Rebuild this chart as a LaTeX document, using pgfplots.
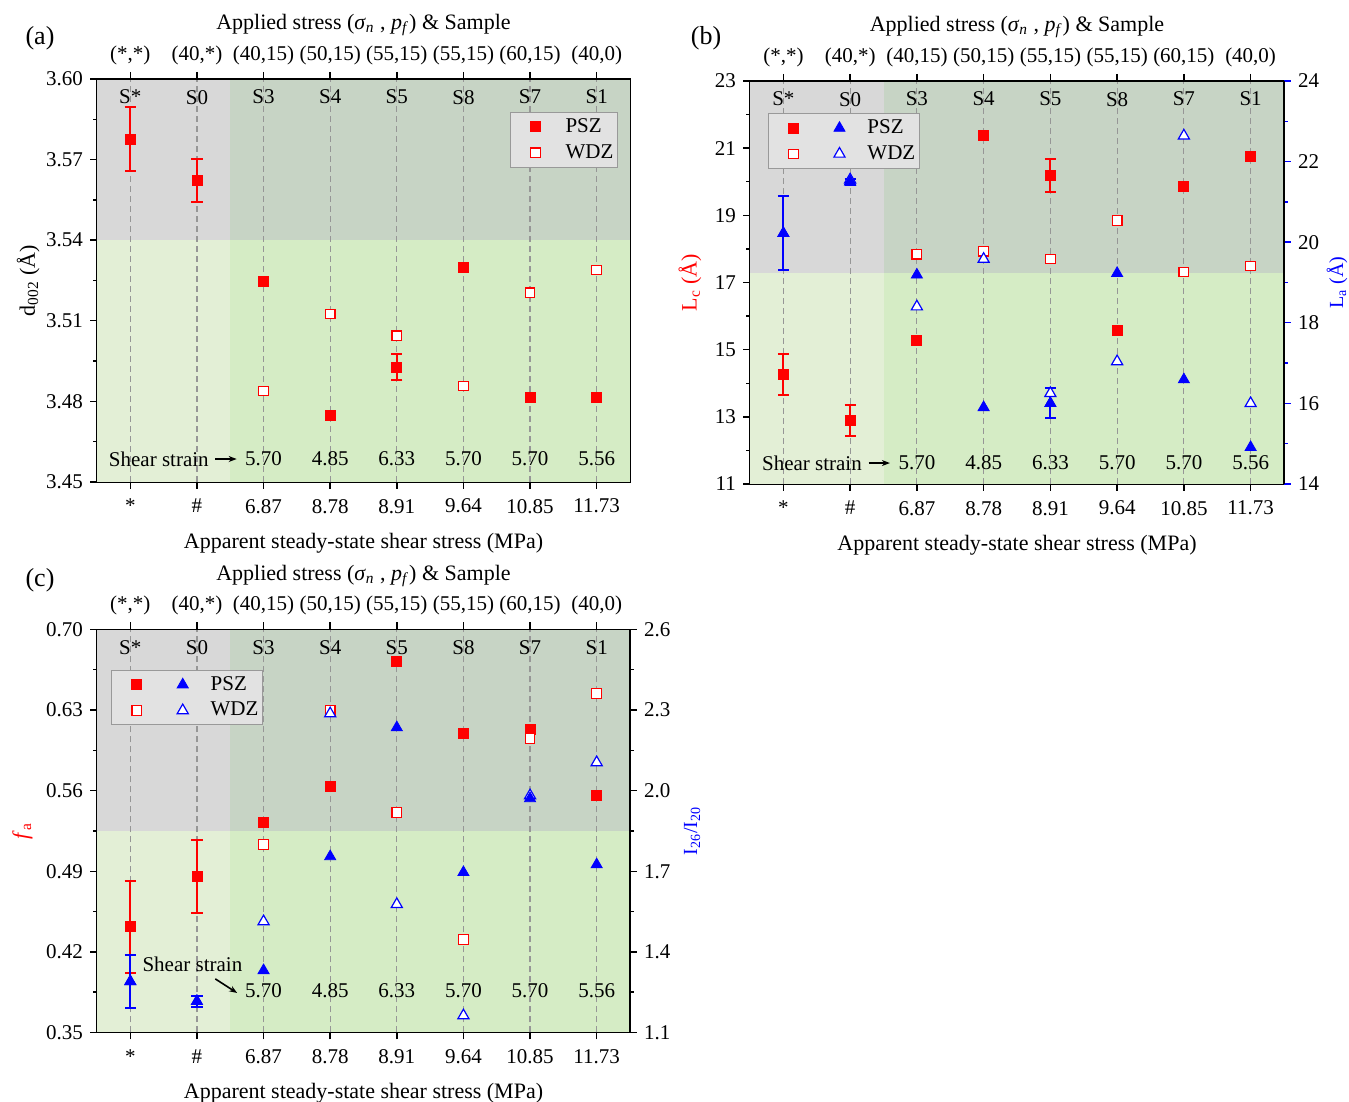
\documentclass[border=0pt]{standalone}
\usepackage{fontspec}
\setmainfont{Liberation Serif}
\usepackage{pgfplots}
\pgfplotsset{compat=1.18}
\usetikzlibrary{arrows.meta}

\definecolor{bgGrayL}{RGB}{216,216,216}
\definecolor{bgGrayR}{RGB}{199,212,197}
\definecolor{bgGreenL}{RGB}{227,239,214}
\definecolor{bgGreenR}{RGB}{213,236,197}
\definecolor{dashc}{RGB}{150,150,150}
\definecolor{legbg}{RGB}{226,226,226}

\newcommand\fs{\fontsize{10.5}{12}\selectfont}
\newcommand\fl{\fontsize{11}{13}\selectfont}

\newcommand\panelbg[1]{%
 \fill[bgGrayL] (rel axis cs:0,#1) rectangle (rel axis cs:0.25,1);
 \fill[bgGrayR] (rel axis cs:0.25,#1) rectangle (rel axis cs:1,1);
 \fill[bgGreenL] (rel axis cs:0,0) rectangle (rel axis cs:0.25,#1);
 \fill[bgGreenR] (rel axis cs:0.25,0) rectangle (rel axis cs:1,#1);
 \pgfplotsinvokeforeach{0.0625,0.1875,0.3125,0.4375,0.5625,0.6875,0.8125,0.9375}{\draw[dashc,line width=0.6pt,dash pattern=on 3pt off 2pt] (rel axis cs:##1,0) -- (rel axis cs:##1,1);}
 \node[font=\fs] at (rel axis cs:0.0625,0.955) {S*};
 \node[font=\fs] at (rel axis cs:0.1875,0.955) {S0};
 \node[font=\fs] at (rel axis cs:0.3125,0.955) {S3};
 \node[font=\fs] at (rel axis cs:0.4375,0.955) {S4};
 \node[font=\fs] at (rel axis cs:0.5625,0.955) {S5};
 \node[font=\fs] at (rel axis cs:0.6875,0.955) {S8};
 \node[font=\fs] at (rel axis cs:0.8125,0.955) {S7};
 \node[font=\fs] at (rel axis cs:0.9375,0.955) {S1};
}
\newcommand\strainvals[1]{%
 \node[font=\fs] at (rel axis cs:0.3125,#1) {5.70};
 \node[font=\fs] at (rel axis cs:0.4375,#1) {4.85};
 \node[font=\fs] at (rel axis cs:0.5625,#1) {6.33};
 \node[font=\fs] at (rel axis cs:0.6875,#1) {5.70};
 \node[font=\fs] at (rel axis cs:0.8125,#1) {5.70};
 \node[font=\fs] at (rel axis cs:0.9375,#1) {5.56};
}

\pgfplotsset{
 base/.style={scale only axis, width=266.5pt, height=201.5pt, anchor=south west,
  xmin=-0.5, xmax=7.5, xtick={0,...,7}, tick align=outside,
  tick style={black, line width=0.7pt}, major tick length=3.5pt, minor tick length=2pt,
  axis line style={line width=0.9pt, -}, clip=false,
  ticklabel style={font=\fs}, label style={font=\fl},
  /pgf/number format/assume math mode=true, scaled y ticks=false},
 topx/.style={xticklabels={{(*,*)},{(40,*)},{(40,15)},{(50,15)},{(55,15)},{(55,15)},{(60,15)},{(40,0)}},
  xlabel={Applied stress (\textit{σ}\textsubscript{\textit{n}} , \textit{p}\textsubscript{\textit{f}}) \& Sample},
  xlabel shift=-2pt},
 botx/.style={xticklabels={*,\#,6.87,8.78,8.91,9.64,10.85,11.73}, xtick pos=lower, ytick pos=left,
  xlabel={Apparent steady-state shear stress (MPa)}, xticklabel shift=1.5pt, xlabel shift=3pt},
 psz/.style={only marks, mark=square*, mark size=2.5pt, red, mark options={fill=red, draw=red}},
 wdz/.style={only marks, mark=square*, mark size=2.4pt, red, mark options={fill=white, draw=red, line width=0.6pt}},
 bpsz/.style={only marks, mark=triangle*, mark size=3.2pt, blue, mark options={fill=blue, draw=blue}},
 bwdz/.style={only marks, mark=triangle*, mark size=3.2pt, blue, mark options={fill=white, draw=blue, line width=0.6pt}},
 padimg/.style={legend image code/.code={\path[draw=none,fill=none] (-#1,0pt) -- (0pt,0pt); \draw[##1] plot coordinates {(0pt,0pt)};}},
 err/.style={/pgfplots/error bars/y dir=both, /pgfplots/error bars/y explicit,
  /pgfplots/error bars/error bar style={line width=1pt},
  /pgfplots/error bars/error mark options={rotate=90, mark size=2.8pt, line width=1pt}},
 leg/.style={legend style={fill=legbg, draw=gray!80, font=\fs, inner xsep=2pt, inner ysep=1pt, row sep=0.5pt,
  nodes={inner xsep=0pt}}, legend cell align=left},
 leg2/.style={legend columns=2, legend style={/tikz/every odd column/.style={column sep=11.2pt},
  /tikz/every even column/.style={column sep=5.5pt}}}
}

\begin{document}
\begin{tikzpicture}
\useasboundingbox (0,0) rectangle (674.5pt,551pt);

% ---------------- (a)
\begin{axis}[base, botx, leg, at={(48.5pt,310pt)},
 ymin=3.45, ymax=3.60, ytick={3.45,3.48,3.51,3.54,3.57,3.60}, minor y tick num=1,
 yticklabel style={/pgf/number format/.cd,fixed,fixed zerofill,precision=2},
 ylabel={d\textsubscript{002} (Å)}, ylabel shift=-3.5pt,
 legend style={at={(0.977,0.918)}, anchor=north east, /tikz/every odd column/.style={column sep=12.5pt}}]
\panelbg{0.6}
\strainvals{0.057}
\node[font=\fs] at (rel axis cs:0.116,0.057) {Shear strain};
\draw[-{Stealth[length=4pt,width=3pt]}, line width=0.8pt] (rel axis cs:0.222,0.057) -- (rel axis cs:0.262,0.057);
\addlegendimage{psz, padimg=10.5pt}\addlegendentry{PSZ}
\addlegendimage{wdz, padimg=10.5pt}\addlegendentry{WDZ}
\addplot[forget plot, psz] coordinates {(0,3.5777) (1,3.5624) (2,3.5245) (3,3.4746) (4,3.4928) (5,3.5300) (6,3.4813) (7,3.4813)};
\addplot[forget plot, wdz] coordinates {(2,3.4839) (3,3.5125) (4,3.5044) (5,3.4857) (6,3.5204) (7,3.5289)};
\addplot[forget plot, psz, err] coordinates {(0,3.5777) +- (0,0.012) (1,3.5624) +- (0,0.008) (4,3.4928) +- (0,0.0048)};
\end{axis}
\begin{axis}[base, topx, at={(48.5pt,310pt)}, ymin=3.45, ymax=3.60, axis x line*=top, axis y line=none]
\end{axis}
\node[font=\fontsize{13}{15}\selectfont] at (20pt,532pt) {(a)};

% ---------------- (b)
\begin{axis}[base, botx, at={(375pt,309pt)}, width=267pt,
 ymin=11, ymax=23, ytick={11,13,15,17,19,21,23}, minor y tick num=1,
 ylabel={L\textsubscript{c} (Å)}, ylabel style={red}]
\panelbg{0.523}
\strainvals{0.052}
\node[font=\fs] at (rel axis cs:0.116,0.052) {Shear strain};
\draw[-{Stealth[length=4pt,width=3pt]}, line width=0.8pt] (rel axis cs:0.222,0.052) -- (rel axis cs:0.262,0.052);
\addplot[psz] coordinates {(0,14.26) (1,12.90) (2,15.27) (3,21.37) (4,20.19) (5,15.56) (6,19.86) (7,20.75)};
\addplot[wdz] coordinates {(2,17.84) (3,17.93) (4,17.70) (5,18.85) (6,17.31) (7,17.49)};
\addplot[psz, err] coordinates {(0,14.26) +- (0,0.60) (1,12.90) +- (0,0.46) (4,20.19) +- (0,0.49)};
\end{axis}
\begin{axis}[base, topx, leg, leg2, at={(375pt,309pt)}, width=267pt,
 ymin=14, ymax=24, ytick={14,16,18,20,22,24}, minor y tick num=1,
 axis x line*=top, axis y line*=right, ylabel near ticks, yticklabel pos=right,
 y tick style={blue}, ylabel={L\textsubscript{a} (Å)}, ylabel style={blue}, ylabel shift=-3pt,
 legend style={at={(0.034,0.92)}, anchor=north west}]
\addlegendimage{psz, padimg=10.5pt}\addlegendentry{}
\addlegendimage{bpsz}\addlegendentry{PSZ}
\addlegendimage{wdz, padimg=10.5pt}\addlegendentry{}
\addlegendimage{bwdz}\addlegendentry{WDZ}
\addplot[forget plot, bwdz] coordinates {(1,21.55) (2,18.40) (3,19.58) (4,16.25) (5,17.04) (6,22.64) (7,16.00)};
\addplot[forget plot, bpsz] coordinates {(0,20.22) (1,21.50) (2,19.19) (3,15.90) (4,16.00) (5,19.23) (6,16.59) (7,14.91)};
\addplot[forget plot, bpsz, err] coordinates {(0,20.22) +- (0,0.92) (1,21.50) +- (0,0.08) (4,16.00) +- (0,0.37)};
\end{axis}
\node[font=\fontsize{13}{15}\selectfont] at (353pt,532pt) {(b)};

% ---------------- (c)
\begin{axis}[base, botx, at={(48.5pt,34.75pt)},
 ymin=0.35, ymax=0.70, ytick={0.35,0.42,0.49,0.56,0.63,0.70}, minor y tick num=1,
 yticklabel style={/pgf/number format/.cd,fixed,fixed zerofill,precision=2},
 ylabel={\textit{f}\textsubscript{a}}, ylabel style={red}]
\panelbg{0.5}
\strainvals{0.103}
\node[font=\fs] at (rel axis cs:0.179,0.168) {Shear strain};
\draw[-{Stealth[length=4pt,width=3pt]}, line width=0.8pt] (rel axis cs:0.222,0.133) -- (rel axis cs:0.263,0.098);
\addplot[psz] coordinates {(0,0.442) (1,0.4855) (2,0.5324) (3,0.5636) (4,0.6722) (5,0.6097) (6,0.6131) (7,0.5558)};
\addplot[wdz] coordinates {(2,0.5133) (3,0.6297) (4,0.5411) (5,0.4308) (6,0.6053) (7,0.6444)};
\addplot[psz, err] coordinates {(0,0.442) +- (0,0.040) (1,0.4855) +- (0,0.032)};
\end{axis}
\begin{axis}[base, topx, leg, leg2, at={(48.5pt,34.75pt)},
 ymin=1.1, ymax=2.6, ytick={1.1,1.4,1.7,2.0,2.3,2.6}, minor y tick num=1,
 yticklabel style={/pgf/number format/.cd,fixed,fixed zerofill,precision=1},
 axis x line*=top, axis y line*=right, ylabel near ticks, yticklabel pos=right,
 ylabel={I\textsubscript{26}/I\textsubscript{20}}, ylabel style={blue},
 legend style={at={(0.027,0.90)}, anchor=north west}]
\addlegendimage{psz, padimg=10.5pt}\addlegendentry{}
\addlegendimage{bpsz}\addlegendentry{PSZ}
\addlegendimage{wdz, padimg=10.5pt}\addlegendentry{}
\addlegendimage{bwdz}\addlegendentry{WDZ}
\addplot[forget plot, bwdz] coordinates {(2,1.513) (3,2.287) (4,1.577) (5,1.163) (6,1.982) (7,2.105)};
\addplot[forget plot, bpsz] coordinates {(0,1.290) (1,1.216) (2,1.331) (3,1.755) (4,2.235) (5,1.696) (6,1.971) (7,1.725)};
\addplot[forget plot, bpsz, err] coordinates {(0,1.290) +- (0,0.10) (1,1.216) +- (0,0.02)};
\end{axis}
\node[font=\fontsize{13}{15}\selectfont] at (20pt,261pt) {(c)};
\end{tikzpicture}
\end{document}
